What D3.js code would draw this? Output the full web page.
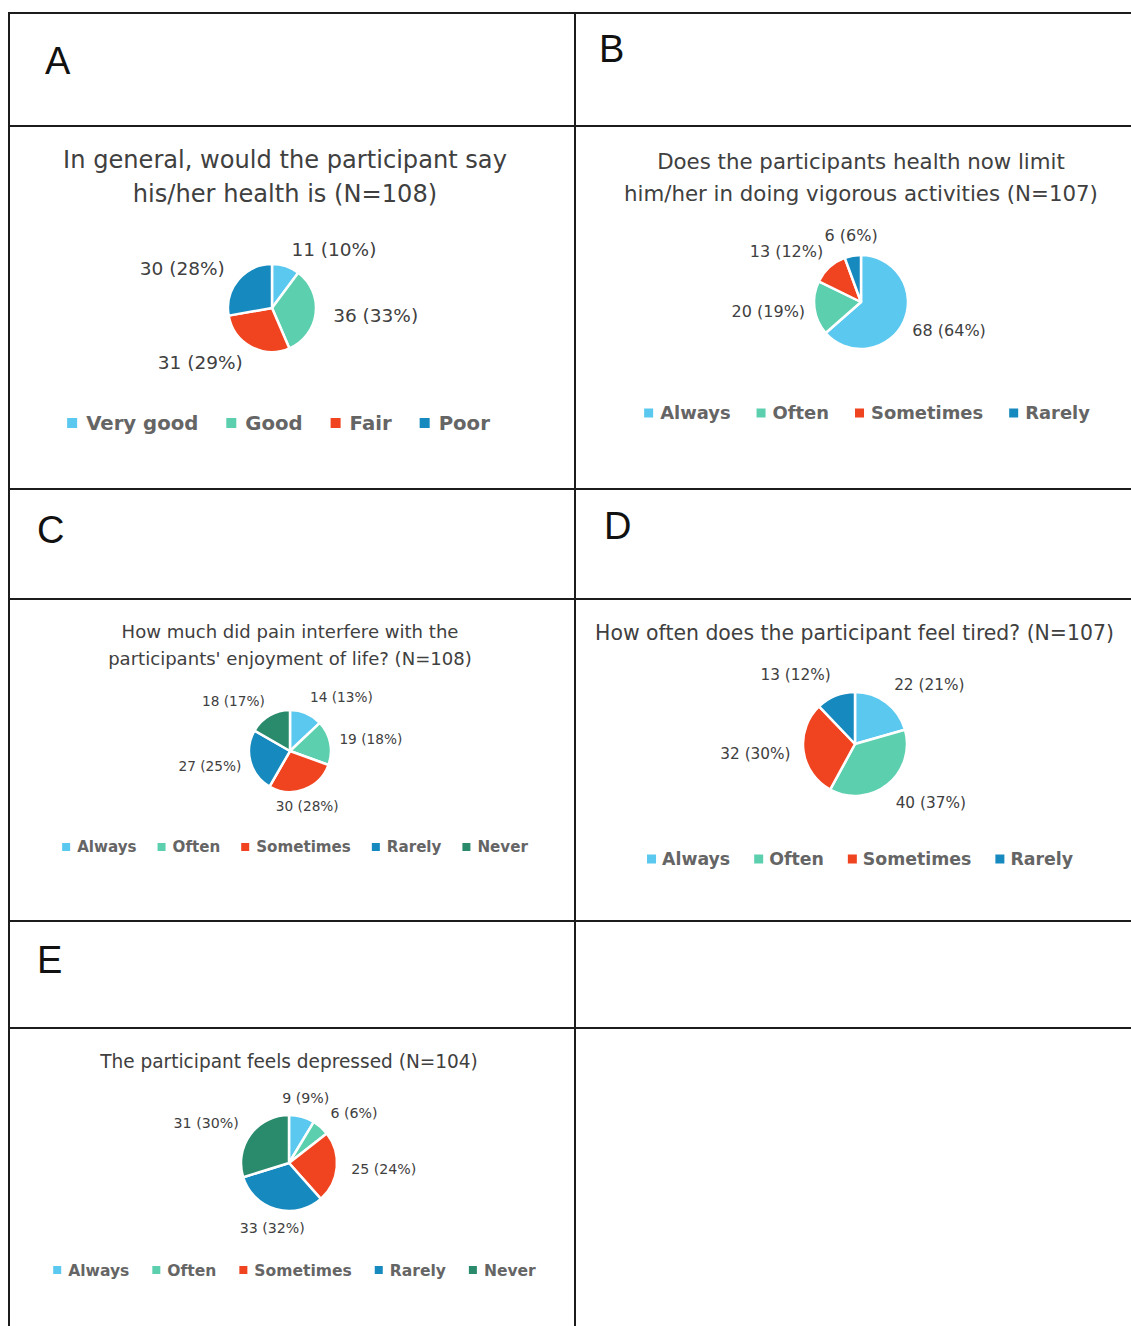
<!DOCTYPE html>
<html>
<head>
<meta charset="utf-8">
<script src="https://cdn.jsdelivr.net/npm/d3@7"></script>
<style>
  html, body { margin: 0; padding: 0; background: #ffffff; }
  svg { display: block; }
</style>
</head>
<body>
<svg id="figure" width="1131" height="1326"></svg>
<script>
// ---- Data ----
const panelLetters = ["A", "B", "C", "D", "E"];

const healthTitle = ["In general, would the participant say", "his/her health is (N=108)"];
const healthCategories = ["Very good", "Good", "Fair", "Poor"];
const healthCounts = [11, 36, 31, 30];
const healthPercents = [10, 33, 29, 28];

const vigorousTitle = ["Does the participants health now limit", "him/her in doing vigorous activities (N=107)"];
const vigorousCategories = ["Always", "Often", "Sometimes", "Rarely"];
const vigorousCounts = [68, 20, 13, 6];
const vigorousPercents = [64, 19, 12, 6];

const painTitle = ["How much did pain interfere with the", "participants' enjoyment of life? (N=108)"];
const painCategories = ["Always", "Often", "Sometimes", "Rarely", "Never"];
const painCounts = [14, 19, 30, 27, 18];
const painPercents = [13, 18, 28, 25, 17];

const tiredTitle = ["How often does the participant feel tired? (N=107)"];
const tiredCategories = ["Always", "Often", "Sometimes", "Rarely"];
const tiredCounts = [22, 40, 32, 13];
const tiredPercents = [21, 37, 30, 12];

const depressedTitle = ["The participant feels depressed (N=104)"];
const depressedCategories = ["Always", "Often", "Sometimes", "Rarely", "Never"];
const depressedCounts = [9, 6, 25, 33, 31];
const depressedPercents = [9, 6, 24, 32, 30];

// ---- Styling ----
const sliceColors = ["#5BC8F0", "#5CCFAE", "#F0431F", "#1689BF", "#2A8A6C"];
const textFont = "'DejaVu Sans', Verdana, sans-serif";
const letterFont = "'Liberation Sans', Arial, sans-serif";

const svg = d3.select("#figure");

// ---- Table grid ----
const grid = svg.append("g").attr("stroke", "#1c1c1c").attr("stroke-width", 2);
[13, 126, 489, 599, 921, 1028].forEach(y =>
  grid.append("line").attr("x1", 8).attr("x2", 1131).attr("y1", y).attr("y2", y));
[9, 575].forEach(x =>
  grid.append("line").attr("x1", x).attr("x2", x).attr("y1", 12).attr("y2", 1326));

// ---- Panel letters ----
const letterPos = [[45, 74], [599, 62], [37, 543], [604, 539], [37, 973]];
svg.append("g").selectAll("text").data(panelLetters).join("text")
  .attr("x", (d, i) => letterPos[i][0])
  .attr("y", (d, i) => letterPos[i][1])
  .attr("font-family", letterFont)
  .attr("font-size", 38)
  .attr("fill", "#111")
  .text(d => d);

// ---- Pie panels ----
// titleWidth: width of the widest title line; legendWidth: overall legend width;
// labelRx / labelRy: horizontal and vertical label distance as a multiple of the radius.
const panels = [
  { title: healthTitle, cats: healthCategories, counts: healthCounts, pcts: healthPercents,
    cx: 272, cy: 308, r: 44, titleX: 285, titleY: [159, 193], titleWidth: 444,
    labelSize: 18.5, labelRx: 1.4, labelRy: 1.4,
    legendX: 278.5, legendY: 423, legendWidth: 423, marker: 10, markerGap: 9, itemGap: 28 },
  { title: vigorousTitle, cats: vigorousCategories, counts: vigorousCounts, pcts: vigorousPercents,
    cx: 861, cy: 302, r: 47, titleX: 861, titleY: [161, 193], titleWidth: 474,
    labelSize: 16, labelRx: 1.2, labelRy: 1.45,
    legendX: 867, legendY: 413, legendWidth: 446, marker: 9, markerGap: 7, itemGap: 26 },
  { title: painTitle, cats: painCategories, counts: painCounts, pcts: painPercents,
    cx: 290, cy: 751, r: 41, titleX: 290, titleY: [631, 658], titleWidth: 364,
    labelSize: 13.7, labelRx: 1.23, labelRy: 1.42,
    legendX: 295, legendY: 847, legendWidth: 466, marker: 8, markerGap: 7, itemGap: 21 },
  { title: tiredTitle, cats: tiredCategories, counts: tiredCounts, pcts: tiredPercents,
    cx: 855, cy: 744, r: 52, titleX: 854.5, titleY: [633], titleWidth: 519,
    labelSize: 15.3, labelRx: 1.25, labelRy: 1.44,
    legendX: 860, legendY: 859, legendWidth: 426, marker: 9, markerGap: 6, itemGap: 24 },
  { title: depressedTitle, cats: depressedCategories, counts: depressedCounts, pcts: depressedPercents,
    cx: 289, cy: 1163, r: 48, titleX: 289, titleY: [1061], titleWidth: 378,
    labelSize: 14.2, labelRx: 1.3, labelRy: 1.4,
    legendX: 294.5, legendY: 1270, legendWidth: 483, marker: 8, markerGap: 7, itemGap: 23 }
];

const pie = d3.pie().sort(null).value(d => d);
const color = d3.scaleOrdinal().domain(d3.range(5)).range(sliceColors);

panels.forEach(p => {
  const g = svg.append("g");

  // title, sized so that its widest line spans titleWidth
  const titles = g.selectAll("text.title").data(p.title).join("text")
    .attr("class", "title")
    .attr("x", p.titleX)
    .attr("y", (d, i) => p.titleY[i])
    .attr("dy", "0.36em")
    .attr("text-anchor", "middle")
    .attr("font-family", textFont)
    .attr("font-size", 20)
    .attr("fill", "#404040")
    .text(d => d);
  const widest = d3.max(titles.nodes(), n => n.getComputedTextLength());
  titles.attr("font-size", 20 * p.titleWidth / widest);

  // slices
  const arcs = pie(p.counts);
  const arc = d3.arc().innerRadius(0).outerRadius(p.r);
  const pg = g.append("g").attr("transform", `translate(${p.cx},${p.cy})`);
  pg.selectAll("path").data(arcs).join("path")
    .attr("d", arc)
    .attr("fill", (d, i) => color(i))
    .attr("stroke", "#ffffff")
    .attr("stroke-width", 2.5)
    .attr("stroke-linejoin", "round");

  // outside labels: "count (pct%)"
  pg.selectAll("text").data(arcs).join("text")
    .each(function (d) {
      const a = (d.startAngle + d.endAngle) / 2;
      const s = Math.sin(a), c = -Math.cos(a);
      const th = c < 0 ? 0.3 : 0.4;
      const anchor = s > th ? "start" : s < -th ? "end" : "middle";
      d3.select(this)
        .attr("x", s * p.r * p.labelRx)
        .attr("y", c * p.r * p.labelRy)
        .attr("dy", "0.36em")
        .attr("text-anchor", anchor);
    })
    .attr("font-family", textFont)
    .attr("font-size", p.labelSize)
    .attr("fill", "#404040")
    .text((d, i) => `${p.counts[i]} (${p.pcts[i]}%)`);

  // legend: text sized to fill legendWidth, centred on legendX
  const lg = g.append("g");
  const items = lg.selectAll("g").data(p.cats).join("g");
  items.append("rect")
    .attr("width", p.marker).attr("height", p.marker)
    .attr("y", -p.marker / 2)
    .attr("fill", (d, i) => color(i));
  const labels = items.append("text")
    .attr("x", p.marker + p.markerGap)
    .attr("dy", "0.36em")
    .attr("font-family", textFont)
    .attr("font-size", 18)
    .attr("font-weight", 700)
    .attr("fill", "#656565")
    .text(d => d);
  const fixed = p.cats.length * (p.marker + p.markerGap) + p.itemGap * (p.cats.length - 1);
  const textSum = d3.sum(labels.nodes(), n => n.getComputedTextLength());
  labels.attr("font-size", 18 * (p.legendWidth - fixed) / textSum);
  const widths = labels.nodes().map(n => p.marker + p.markerGap + n.getComputedTextLength());
  const total = d3.sum(widths) + p.itemGap * (widths.length - 1);
  let x = p.legendX - total / 2;
  items.attr("transform", (d, i) => {
    const t = `translate(${x},${p.legendY})`;
    x += widths[i] + p.itemGap;
    return t;
  });
});
</script>
</body>
</html>
